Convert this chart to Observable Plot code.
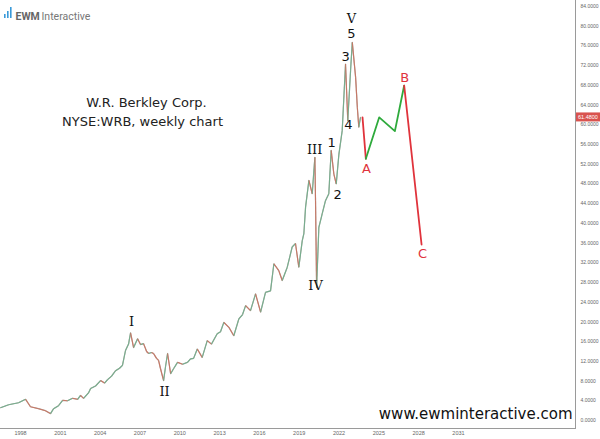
<!DOCTYPE html>
<html>
<head>
<meta charset="utf-8">
<script src="https://cdn.jsdelivr.net/npm/d3@7"></script>
<script src="https://cdn.jsdelivr.net/npm/@observablehq/plot@0.6"></script>
<style>
  html, body { margin: 0; padding: 0; background: #fff; }
  #chart svg { display: block; }
</style>
</head>
<body>
<div id="chart"></div>
<script>
// Price history (decimal year, close)
const years = [1996.49,1997.10,1997.85,1998.38,1998.75,1999.36,1999.88,2000.26,2000.49,2000.86,
  2001.17,2001.54,2001.92,2002.30,2002.52,2002.75,2003.12,2003.28,2003.65,2004.03,
  2004.33,2004.56,2004.86,2005.16,2005.46,2005.68,2005.91,2006.14,2006.29,2006.52,
  2006.82,2007.04,2007.27,2007.50,2007.65,2007.87,2008.02,2008.25,2008.40,2008.55,
  2008.78,2008.93,2009.08,2009.31,2009.53,2009.83,2010.21,2010.58,2010.81,2011.04,
  2011.32,2011.69,2012.07,2012.39,2012.82,2013.07,2013.32,2013.70,2014.07,2014.45,
  2014.73,2014.96,2015.33,2015.71,2016.09,2016.46,2016.84,2017.09,2017.46,2017.72,
  2018.10,2018.47,2018.72,2018.97,2019.23,2019.35,2019.48,2019.73,2019.98,2020.18,
  2020.23,2020.31,2020.48,2020.74,2020.98,2021.23,2021.41,2021.61,2021.79,2021.99,
  2022.24,2022.49,2022.66,2022.87,2023.00,2023.25,2023.38,2023.49,2023.62];
const closes = [2.6,3.2,3.6,4.3,2.8,2.4,2.0,1.4,2.4,3.0,
  4.1,4.0,4.5,4.3,5.1,4.5,5.6,6.5,7.0,8.1,
  7.6,8.3,9.0,10.1,10.6,11.2,14.2,15.5,17.8,14.8,
  16.6,15.4,15.6,14.0,13.6,13.8,13.6,12.6,12.2,10.5,
  8.1,11.0,13.6,9.5,10.5,11.8,11.4,11.8,12.5,12.6,
  14.5,12.8,16.2,15.5,17.6,18.0,19.9,18.9,17.2,20.6,
  21.5,23.3,22.3,25.7,22.0,26.0,26.3,31.8,30.4,28.4,
  31.1,35.2,35.9,31.1,36.5,37.9,43.3,48.7,46.0,53.4,
  44.6,27.0,39.2,42.0,44.6,46.0,54.8,50.0,48.0,54.0,
  58.8,72.3,60.8,71.0,76.7,69.6,63.5,59.5,61.5];
const lastPrice = 61.48;

// Projected path (A-B-C)
const projRedA_years = [2023.77, 2024.02];
const projRedA_prices = [61.5, 53.1];
const projGreen_years = [2024.02, 2025.03, 2026.21, 2026.91];
const projGreen_prices = [53.1, 61.5, 58.7, 67.95];
const projRedC_years = [2026.91, 2028.22];
const projRedC_prices = [67.95, 35.7];

// Wave labels
const romanLabels = ["I","II","III","IV","V"];
const romanYears = [2006.36, 2008.85, 2020.16, 2020.23, 2022.94];
const romanPrices = [20.1, 5.9, 55.0, 27.4, 81.4];
const digitLabels = ["1","2","3","4","5"];
const digitYears = [2021.44, 2021.89, 2022.49, 2022.71, 2022.94];
const digitPrices = [56.4, 45.8, 73.8, 60.0, 78.5];
const abcLabels = ["A","B","C"];
const abcYears = [2024.07, 2026.94, 2028.29];
const abcPrices = [51.1, 69.6, 33.9];

const xTicks = [1998,2001,2004,2007,2010,2013,2016,2019,2022,2025,2028,2031];
const yTicks = d3.range(0, 85, 4);

const segs = closes.slice(1).map((c, i) => ({
  x1: years[i], y1: closes[i], x2: years[i + 1], y2: c, up: c >= closes[i]
}));
const toPts = (ys, ps) => ys.map((y, i) => ({x: y, y: ps[i]}));
const toLbl = (ls, ys, ps) => ls.map((l, i) => ({t: l, x: ys[i], y: ps[i]}));

const RED = "#e0333c";
const GREEN = "#2eaa3c";

const chart = Plot.plot({
  width: 600,
  height: 439,
  marginLeft: 0,
  marginRight: 25,
  marginTop: 0,
  marginBottom: 11,
  style: {background: "#fff", fontFamily: "DejaVu Sans, Verdana, sans-serif"},
  x: {domain: [1996.49, 2039.82], ticks: xTicks, tickFormat: d => String(d), label: null},
  y: {domain: [-1.62, 85.2], ticks: yTicks, tickFormat: d => d.toFixed(4), label: null},
  marks: [
    Plot.axisY({anchor: "right", ticks: yTicks, tickFormat: d => d.toFixed(4), tickSize: 0, tickPadding: 5, fontSize: 5, fontFamily: "Liberation Sans, Arial, sans-serif", color: "#666", label: null}),
    Plot.axisX({anchor: "bottom", ticks: xTicks, tickFormat: d => String(d), tickSize: 0, tickPadding: 3, fontSize: 5.5, fontFamily: "Liberation Sans, Arial, sans-serif", color: "#666", label: null}),
    Plot.frame({anchor: "right", stroke: "#9a9a9a"}),
    Plot.frame({anchor: "bottom", stroke: "#9a9a9a"}),
    Plot.line(toPts(years, closes), {x: "x", y: "y", stroke: "#a0948c", strokeWidth: 1.2, strokeOpacity: 0.8}),
    Plot.link(segs, {x1: "x1", y1: "y1", x2: "x2", y2: "y2", stroke: d => d.up ? "#6fae8c" : "#c8725f", strokeWidth: 1.1, strokeOpacity: 0.9}),
    Plot.line(toPts(projRedA_years, projRedA_prices), {x: "x", y: "y", stroke: RED, strokeWidth: 1.8}),
    Plot.line(toPts(projGreen_years, projGreen_prices), {x: "x", y: "y", stroke: GREEN, strokeWidth: 1.8}),
    Plot.line(toPts(projRedC_years, projRedC_prices), {x: "x", y: "y", stroke: RED, strokeWidth: 1.8}),
    Plot.text(toLbl(romanLabels, romanYears, romanPrices), {x: "x", y: "y", text: "t", fontFamily: "DejaVu Serif, Liberation Serif, serif", fontSize: 13, fill: "#111"}),
    Plot.text(toLbl(digitLabels, digitYears, digitPrices), {x: "x", y: "y", text: "t", fontSize: 13, fill: "#111"}),
    Plot.text(toLbl(abcLabels, abcYears, abcPrices), {x: "x", y: "y", text: "t", fontSize: 13, fill: RED}),
    Plot.text(["W.R. Berkley Corp."], {frameAnchor: "top-left", dx: 146, dy: 97, text: d => d, textAnchor: "middle", fontSize: 13, fill: "#222"}),
    Plot.text(["NYSE:WRB, weekly chart"], {frameAnchor: "top-left", dx: 142, dy: 116, text: d => d, textAnchor: "middle", fontSize: 13, fill: "#222"}),
    Plot.text(["www.ewminteractive.com"], {frameAnchor: "bottom-right", dx: -3, dy: -10, text: d => d, textAnchor: "end", fontSize: 15, fill: "#111"}),
    Plot.text(["EWM"], {frameAnchor: "top-left", dx: 15, dy: 12, text: d => d, textAnchor: "start", fontSize: 10.5, fontWeight: "bold", fontFamily: "Roboto, Liberation Sans, sans-serif", fill: "#666"}),
    Plot.text(["Interactive"], {frameAnchor: "top-left", dx: 41, dy: 12, text: d => d, textAnchor: "start", fontSize: 10.5, fontFamily: "Roboto, Liberation Sans, sans-serif", fill: "#777"})
  ]
});

// logo bars and last-price tag, placed through the chart's own y scale
const svg = d3.select(chart);
const logo = svg.append("g").attr("fill", "#3a9ad9");
[[4, 14, 4], [7, 11, 7], [10, 7, 11]].forEach(([x, y, h]) => {
  logo.append("rect").attr("x", x).attr("y", y).attr("width", 1.6).attr("height", h);
});
const yTag = chart.scale("y").apply(lastPrice);
svg.append("rect").attr("x", 576).attr("y", yTag - 4.5).attr("width", 24).attr("height", 9).attr("fill", "#d9534f");
svg.append("text").attr("x", 588).attr("y", yTag).attr("dy", "0.35em").attr("text-anchor", "middle")
  .attr("font-size", 5.5).attr("fill", "#fff").attr("font-family", "Liberation Sans, Arial, sans-serif").text(lastPrice.toFixed(4));

document.getElementById("chart").appendChild(chart);
</script>
</body>
</html>
